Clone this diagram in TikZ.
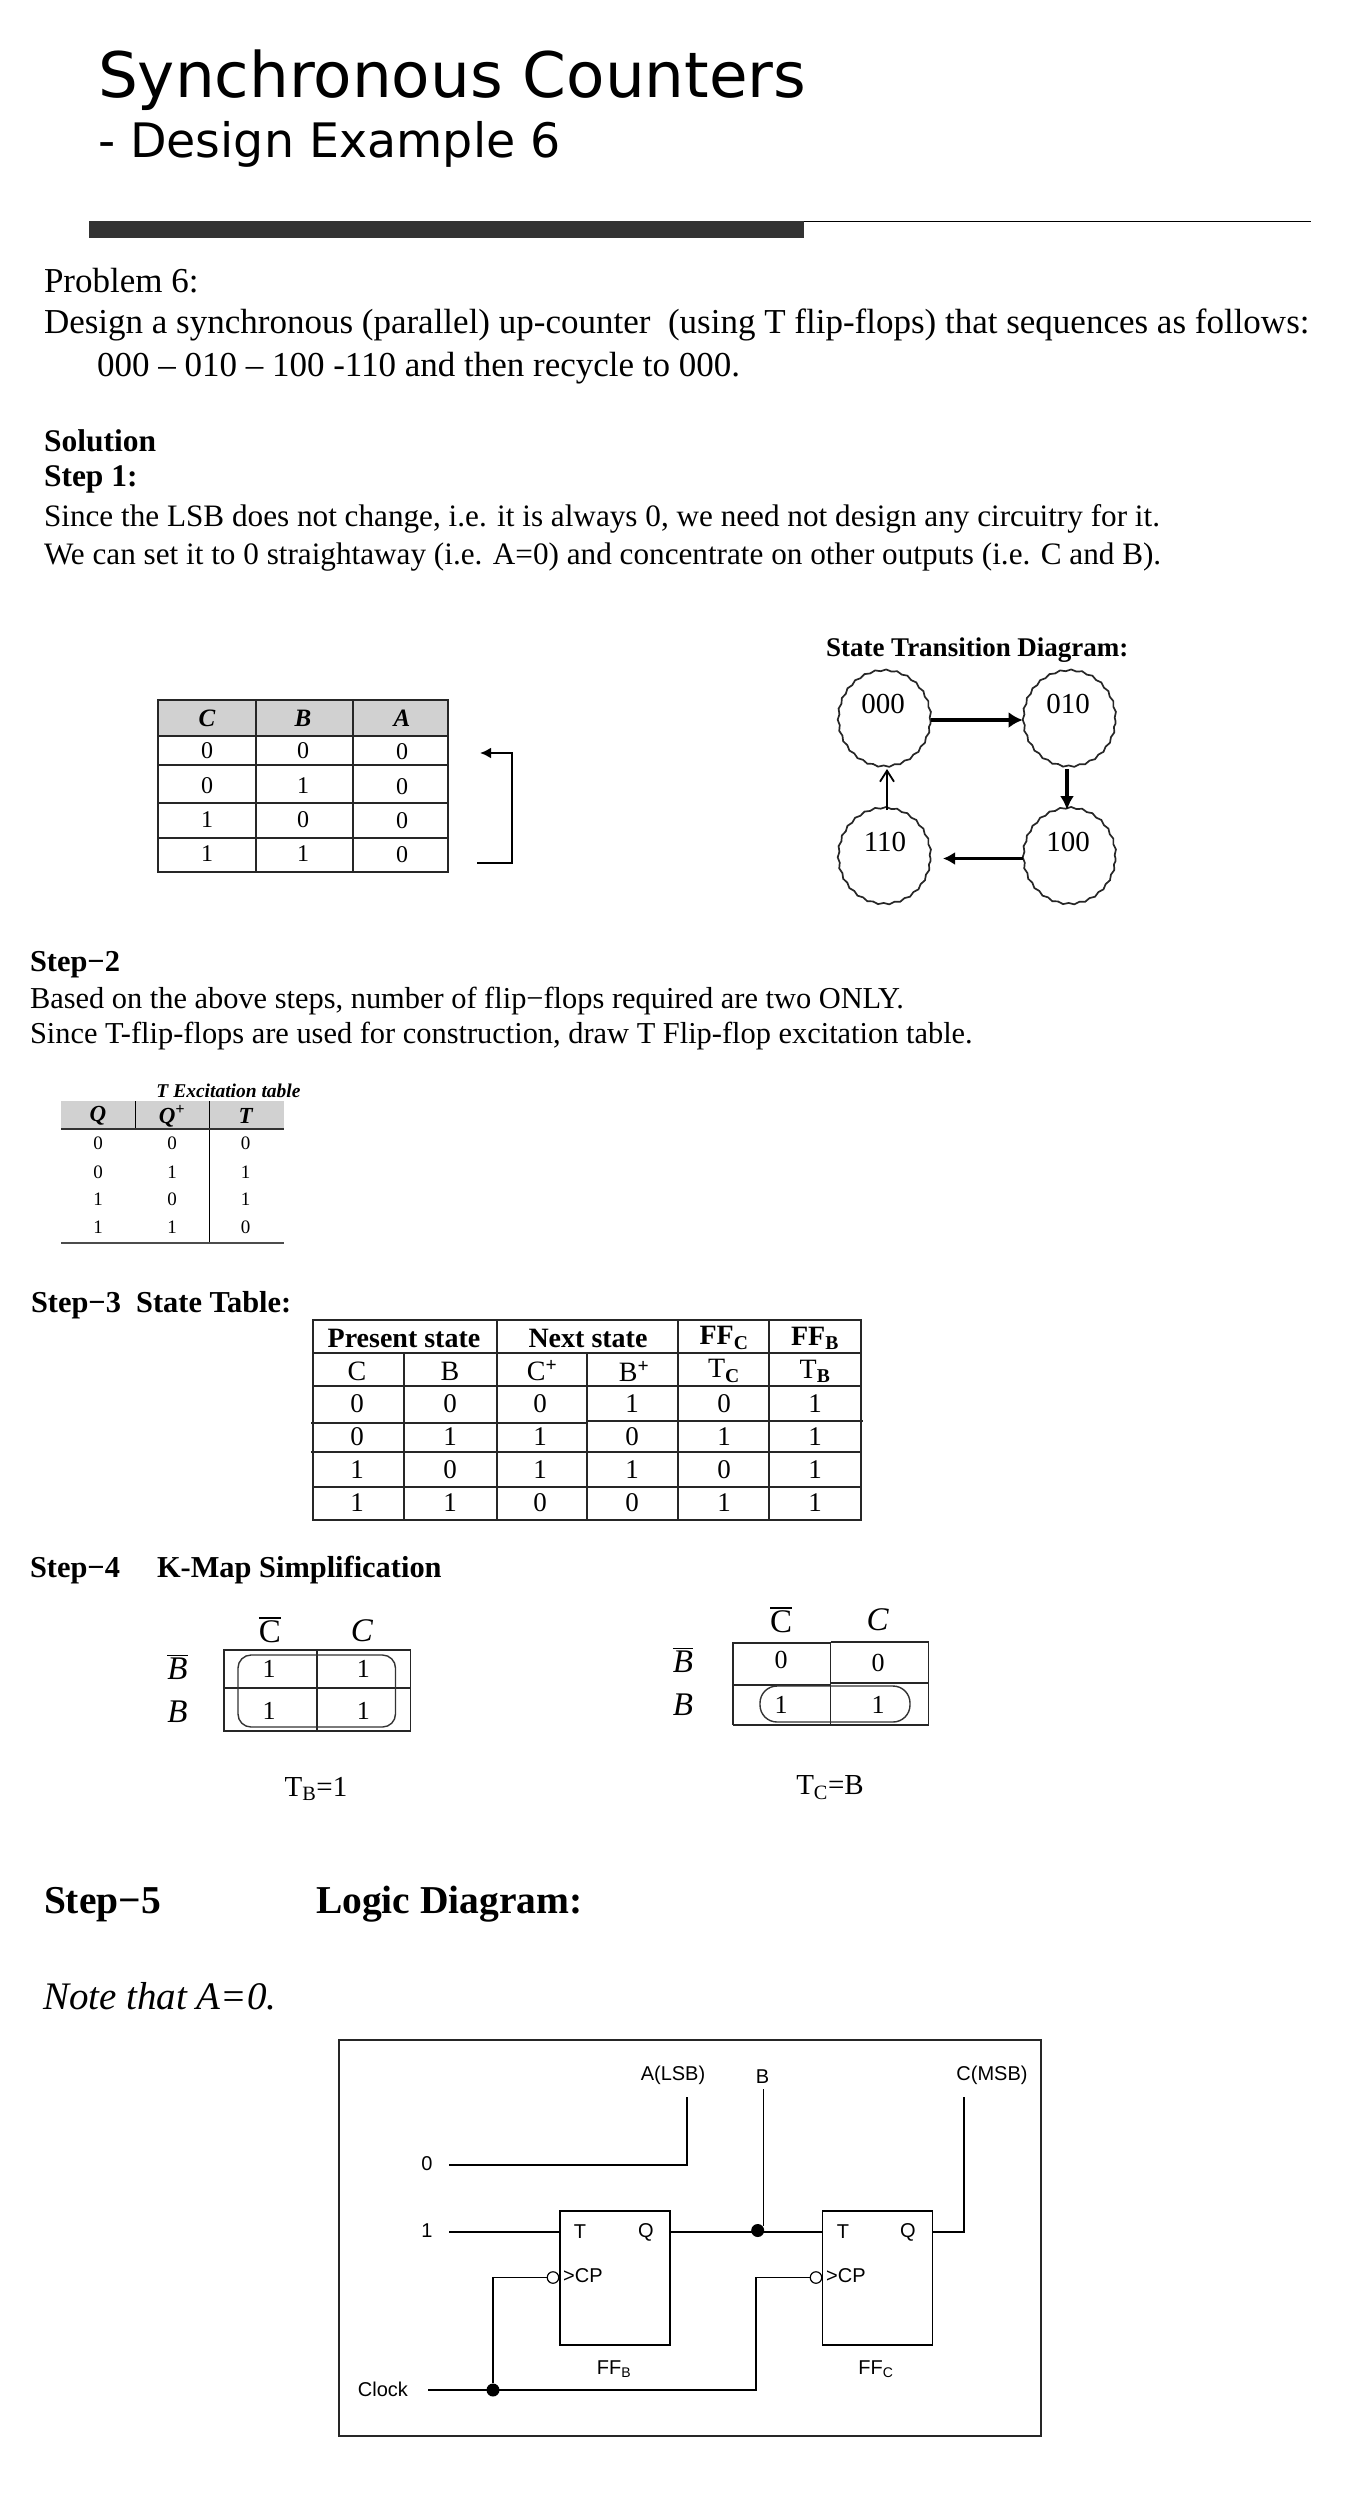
\documentclass[tikz,border=0pt]{standalone}
\usepackage{fontspec}
\setmainfont{Liberation Serif}
\newfontfamily\arialf{Liberation Sans}
\newfontfamily\verdf{DejaVu Sans}
\usetikzlibrary{shapes.geometric,arrows.meta,decorations.pathmorphing}
\newcommand{\fsz}[1]{\fontsize{#1}{#1}\selectfont}
\newcommand{\ovl}[1]{\leavevmode\vbox{\hrule height 1.8pt \kern 1.2pt \hbox{#1}}}
\tikzset{
 txt/.style={anchor=base west,inner sep=0pt,outer sep=0pt},
 body/.style={txt,font=\fsz{31.2}},
 bodyb/.style={txt,font=\fsz{30.4}},
 lead/.style={txt,font=\fsz{35}},
 head/.style={txt,font=\fsz{31.5}\bfseries},
 headb/.style={txt,font=\fsz{30.4}\bfseries},
 big/.style={txt,font=\fsz{39.5}\bfseries},
 cell/.style={inner sep=0pt,font=\fsz{24}},
 tcell/.style={inner sep=0pt,font=\fsz{19}},
 scell/.style={inner sep=0pt,font=\fsz{27}},
 shead/.style={inner sep=0pt,font=\fsz{28}\bfseries},
 kcell/.style={inner sep=0pt,font=\fsz{26}},
 klab/.style={inner sep=0pt,font=\fsz{33}},
 grid/.style={line width=1.8pt,black!85},
 kgrid/.style={line width=1.6pt,black!85},
 state/.style={draw=black!85,line width=1.7pt,ellipse,minimum width=92pt,minimum height=96pt,inner sep=0pt,decorate,decoration={snake,segment length=11pt,amplitude=0.8pt}},
 stxt/.style={inner sep=0pt,font=\fsz{29}},
 wire/.style={line width=1.6pt,black},
 lg/.style={inner sep=0pt,font=\arialf\fsz{20}},
 ff/.style={draw=black,line width=1.6pt,rectangle,minimum width=110pt,minimum height=134pt,inner sep=0pt},
 dot/.style={circle,fill=black,minimum size=13pt,inner sep=0pt},
 bub/.style={circle,draw=black,line width=1.2pt,fill=white,minimum size=11.5pt,inner sep=0pt},
}
\begin{document}
\begin{tikzpicture}[x=1pt,y=-1pt]
\useasboundingbox (0,0) rectangle (1352,2504);
\fill[white] (0,0) rectangle (1352,2504);
% Title
\node[txt,font=\verdf\fsz{62.8}] (title) at (98,97) {Synchronous Counters};
\node[txt,font=\verdf\fsz{47.5}] (subtitle) at (98,157) {- Design Example 6};
\fill[black!80] (89,221) rectangle (804,238);
\draw[line width=1.5pt] (804,221.5) -- (1311,221.5);
% Problem
\node[lead] (p1) at (44,292.5) {Problem 6:};
\node[lead] (p2) at (44,333.5) {Design a synchronous (parallel) up-counter\ \ (using T flip-flops) that sequences as follows:};
\node[lead] (p3) at (97,376.5) {000 – 010 – 100 -110 and then recycle to 000.};
\node[head] (sol) at (44,451) {Solution};
\node[head] (st1) at (44,486) {Step 1:};
\node[body] (l1) at (44,526) {Since the LSB does not change, i.e. it is always 0, we need not design any circuitry for it.};
\node[body] (l2) at (44,564) {We can set it to 0 straightaway (i.e. A=0) and concentrate on other outputs (i.e. C and B).};
% Table 1
\fill[black!18] (158,700) rectangle (448,736);
\draw[grid] (158,700) rectangle (448,872);
\foreach \y in {736,765,803,838} \draw[grid] (158,\y) -- (448,\y);
\foreach \x in {256,353} \draw[grid] (\x,700) -- (\x,872);
\foreach \n/\x/\t in {a/207/C,b/303/B,c/402/A}
  \node[cell,font=\fsz{25}\bfseries\itshape] (th\n) at (\x,718) {\t};
\foreach \r/\y/\u/\v in {1/751/0/0,2/786/0/1,3/820/1/0,4/854/1/1}{
  \node[cell] (ta\r) at (207,\y) {\u};
  \node[cell] (tb\r) at (303,\y) {\v};
  \node[cell] (tc\r) at (402,\y+1) {0};
}
\coordinate (ra) at (480,753);
\coordinate (rb) at (477,863);
\draw[line width=2.6pt,-{Latex[length=11pt,width=11pt]}] (rb) -- (512,863) -- (512,753) -- (ra);
% State diagram
\node[txt,font=\fsz{27}\bfseries] (sdt) at (826,656) {State Transition Diagram:};
\node[state] (s000) at (884.5,721) {};
\node[state] (s010) at (1069.5,721) {};
\node[state] (s110) at (884.5,858.5) {};
\node[state] (s100) at (1069.5,858.5) {};
\node[stxt] (x000) at (883,704) {000};
\node[stxt] (x010) at (1068,704) {010};
\node[stxt] (x110) at (885,842) {110};
\node[stxt] (x100) at (1068,842) {100};
\draw[line width=4pt,-{Latex[length=14pt,width=16pt]}] (s000.east |- 0,720) -- (s010.west |- 0,720);
\draw[line width=4pt,-{Latex[length=14pt,width=14pt]}] (1067,769) -- (1067,810);
\draw[line width=2.6pt,-{Latex[length=12pt,width=13pt]}] (s100.west) -- (943,858.5);
\draw[line width=1.8pt,-{Straight Barb[length=11pt,width=14pt]}] (887,810) -- (887,769);
% Step 2
\node[headb] (st2) at (30,971) {Step−2};
\node[bodyb] (l3) at (30,1008) {Based on the above steps, number of flip−flops required are two ONLY.};
\node[bodyb] (l4) at (30,1043) {Since T-flip-flops are used for construction, draw T Flip-flop excitation table.};
% Excitation table
\node[inner sep=0pt,font=\fsz{19.5}\bfseries\itshape] (ext) at (228.5,1091) {T Excitation table};
\fill[black!18] (61,1101) rectangle (283.5,1129);
\draw[line width=1pt] (135.6,1101) -- (135.6,1129);
\draw[line width=1pt] (209,1101) -- (209,1243);
\draw[line width=2pt,black!80] (61,1129) -- (283.5,1129);
\draw[line width=2pt,black!70] (61,1243) -- (283.5,1243);
\node[tcell,font=\fsz{23}\bfseries\itshape] (eh1) at (98,1116) {Q};
\node[tcell,font=\fsz{23}\bfseries\itshape] (eh2) at (172,1116) {Q\textsuperscript{+}};
\node[tcell,font=\fsz{23}\bfseries\itshape] (eh3) at (245.6,1116) {T};
\foreach \r/\y/\u/\v/\w in {1/1143/0/0/0,2/1172/0/1/1,3/1199/1/0/1,4/1227/1/1/0}{
  \node[tcell] (ea\r) at (98,\y) {\u};
  \node[tcell] (eb\r) at (172,\y) {\v};
  \node[tcell] (ec\r) at (245.6,\y) {\w};
}
% Step 3
\node[headb] (st3) at (31,1312) {Step−3\ \ State Table:};
\draw[grid] (313,1320) rectangle (861,1520);
\draw[grid] (313,1353) -- (861,1353);
\draw[grid] (313,1386) -- (861,1386);
\draw[grid] (311,1423) -- (587,1423);
\draw[grid] (587,1421) -- (863,1421);
\draw[grid] (311,1452) -- (861,1452);
\draw[grid] (313,1487) -- (861,1487);
\foreach \x in {497,678,769} \draw[grid] (\x,1320) -- (\x,1520);
\foreach \x in {404,587} \draw[grid] (\x,1353) -- (\x,1520);
\node[shead] (h1) at (404,1338) {Present state};
\node[shead] (h2) at (588,1338) {Next state};
\node[shead] (h3) at (724,1338) {FF\textsubscript{C}};
\node[shead] (h4) at (815,1338) {FF\textsubscript{B}};
\node[scell,font=\fsz{28}] (g1) at (357,1371) {C};
\node[scell,font=\fsz{28}] (g2) at (450,1371) {B};
\node[scell,font=\fsz{28}] (g3) at (542,1371) {C\textsuperscript{\textbf{+}}};
\node[scell,font=\fsz{28}] (g4) at (634,1371) {B\textsuperscript{\textbf{+}}};
\node[scell,font=\fsz{28}] (g5) at (724,1371) {T\textsubscript{\textbf{C}}};
\node[scell,font=\fsz{28}] (g6) at (815,1371) {T\textsubscript{\textbf{B}}};
\foreach \r/\y/\a/\b/\c/\d/\e/\f in {1/1404/0/0/0/1/0/1,2/1437/0/1/1/0/1/1,3/1470/1/0/1/1/0/1,4/1503/1/1/0/0/1/1}{
  \node[scell] (sa\r) at (357,\y) {\a};
  \node[scell] (sb\r) at (450,\y) {\b};
  \node[scell] (sc\r) at (540,\y) {\c};
  \node[scell] (sd\r) at (632,\y) {\d};
  \node[scell] (se\r) at (724,\y) {\e};
  \node[scell] (sf\r) at (815,\y) {\f};
}
% Step 4
\node[headb] (st4) at (30,1577) {Step−4};
\node[headb] (km) at (157,1577) {K-Map Simplification};
% K-map 1
\draw[kgrid] (224,1650) rectangle (410.5,1731);
\draw[kgrid] (224,1688) -- (410.5,1688);
\draw[kgrid] (317,1650) -- (317,1731);
\draw[line width=1.4pt,rounded corners=13pt,black!80] (238,1655) rectangle (395.5,1727);
\node[klab] (k1c) at (270,1630) {\ovl{C}};
\node[klab,font=\fsz{33}\itshape] (k1d) at (362,1631) {C};
\node[klab,font=\fsz{33}\itshape] (k1e) at (177.5,1667) {\ovl{B}};
\node[klab,font=\fsz{33}\itshape] (k1f) at (177.5,1712) {B};
\node[kcell] (k1a) at (269,1669) {1};
\node[kcell] (k1g) at (363.4,1669) {1};
\node[kcell] (k1h) at (269,1711) {1};
\node[kcell] (k1i) at (363.4,1711) {1};
\node[kcell,font=\fsz{29}] (k1t) at (316,1789) {T\textsubscript{B}=1};
% K-map 2
\draw[kgrid] (733,1725) -- (733,1643) -- (830.5,1643);
\draw[kgrid] (830.5,1642) -- (928.6,1642) -- (928.6,1725) -- (733,1725);
\draw[kgrid] (733,1685) -- (830.5,1685);
\draw[kgrid] (830.5,1683) -- (928.6,1683);
\draw[kgrid] (830.5,1642) -- (830.5,1725);
\draw[line width=1.4pt,rounded corners=17pt,black!80] (760,1686) rectangle (910,1722);
\node[klab] (k2c) at (781,1620) {\ovl{C}};
\node[klab,font=\fsz{33}\itshape] (k2d) at (877.7,1620) {C};
\node[klab,font=\fsz{33}\itshape] (k2e) at (683,1660) {\ovl{B}};
\node[klab,font=\fsz{33}\itshape] (k2f) at (683,1705) {B};
\node[kcell] (k2a) at (781,1660) {0};
\node[kcell] (k2g) at (878,1663) {0};
\node[kcell] (k2h) at (781,1705) {1};
\node[kcell] (k2i) at (878,1705) {1};
\node[kcell,font=\fsz{29}] (k2t) at (830,1788) {T\textsubscript{C}=B};
% Step 5
\node[big] (st5) at (44,1913) {Step−5};
\node[big] (ld) at (316,1913) {Logic Diagram:};
\node[txt,font=\fsz{39}\itshape] (note) at (43,2009) {Note that A=0.};
% Logic diagram
\draw[line width=1.6pt,black!85] (339,2040) rectangle (1041,2436);
\node[ff,anchor=north west] (ffb) at (559,2210) {};
\node[ff,anchor=north west] (ffc) at (821.7,2210) {};
\node[lg] (tb) at (580,2232) {T};
\node[lg] (qb) at (646,2232) {Q};
\node[lg] (tc) at (843,2232) {T};
\node[lg] (qc) at (908,2232) {Q};
\node[lg,anchor=west] (cpb) at (563,2276) {>CP};
\node[lg,anchor=west] (cpc) at (826,2276) {>CP};
\node[lg] (n0) at (427,2164) {0};
\node[lg] (n1) at (427,2231) {1};
\node[lg] (clk) at (383,2389) {Clock};
\node[lg] (alsb) at (673,2075) {A(LSB)};
\node[lg] (bout) at (762.5,2077) {B};
\node[lg] (cmsb) at (992,2075) {C(MSB)};
\node[lg] (ffbl) at (614,2369) {FF\textsubscript{B}};
\node[lg] (ffcl) at (876,2369) {FF\textsubscript{C}};
\coordinate (w0) at (449,2165);
\coordinate (w0e) at (687,2097);
\coordinate (w1) at (449,2232);
\coordinate (wb) at (763.5,2089);
\coordinate (wc) at (964,2097);
\coordinate (wclk) at (428,2390);
\coordinate (qbo) at (669,2232);
\coordinate (tbi) at (559,2232);
\coordinate (tci) at (821.7,2232);
\coordinate (qco) at (932,2232);
\node[dot] (jb) at (757.7,2230.5) {};
\node[dot] (jc) at (493,2390) {};
\node[bub] (bb) at (553,2277.5) {};
\node[bub] (bc) at (816,2277.5) {};
\draw[wire] (w0) -- (w0 -| w0e) -- (w0e);
\draw[wire] (w1) -- (tbi);
\draw[wire] (qbo) -- (tci);
\draw[wire] (wb) -- (763.5,2226);
\draw[wire] (qco) -- (qco -| wc) -- (wc);
\draw[wire] (wclk) -- (755.7,2390) -- (755.7,2277.5) -- (bc);
\draw[wire] (jc) -- (493,2277.5) -- (bb);
\end{tikzpicture}
\end{document}
